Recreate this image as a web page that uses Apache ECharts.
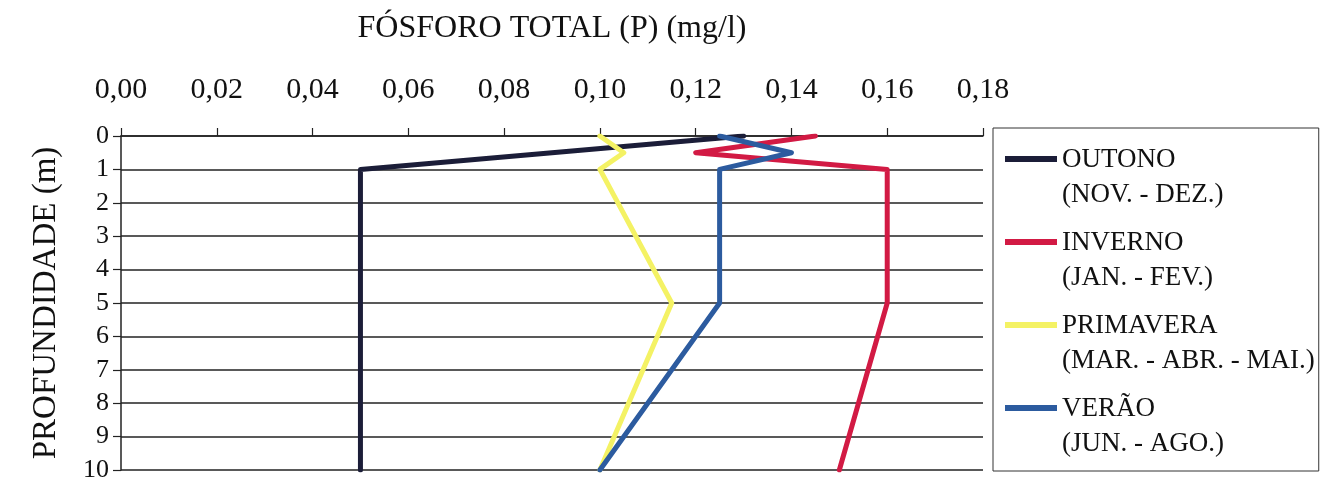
<!DOCTYPE html>
<html>
<head>
<meta charset="utf-8">
<script src="https://cdn.jsdelivr.net/npm/echarts@6/dist/echarts.min.js"></script>
<style>
  html, body { margin: 0; padding: 0; background: #fff; }
  #chart { width: 1325px; height: 484px; }
</style>
</head>
<body>
<div id="chart"></div>
<script>
// profundidade (m)
const depths = [0, 0.5, 1, 5, 10];
// fósforo total (mg/l) por estação
const outono = [0.13, 0.09, 0.05, 0.05, 0.05];
const inverno = [0.145, 0.12, 0.16, 0.16, 0.15];
const primavera = [0.10, 0.105, 0.10, 0.115, 0.10];
const verao = [0.125, 0.14, 0.125, 0.125, 0.10];

const seriesNames = [
  "OUTONO\n(NOV. - DEZ.)",
  "INVERNO\n(JAN. - FEV.)",
  "PRIMAVERA\n(MAR. - ABR. - MAI.)",
  "VERÃO\n(JUN. - AGO.)"
];
const seriesColors = ["#1b1d38", "#d21a44", "#f4f264", "#2c5b9f"];
const seriesData = [outono, inverno, primavera, verao];

const serif = "Liberation Serif";

const chart = echarts.init(document.getElementById("chart"));

const pairs = (vals) => vals.map((v, i) => [v, depths[i]]);

const option = {
  backgroundColor: "#fff",
  animation: false,
  grid: { left: 121, right: 342, top: 136, bottom: 14 },
  xAxis: {
    type: "value",
    position: "top",
    min: 0,
    max: 0.18,
    interval: 0.02,
    name: "FÓSFORO TOTAL (P) (mg/l)",
    nameLocation: "middle",
    nameGap: 91,
    nameTextStyle: { fontFamily: serif, fontSize: 32, color: "#111" },
    axisLine: { show: true, lineStyle: { color: "#222", width: 1.5 } },
    axisTick: { show: true, length: 8, lineStyle: { color: "#222", width: 1.2 } },
    axisLabel: {
      margin: 31,
      fontFamily: serif,
      fontSize: 30,
      color: "#111",
      formatter: (v) => v.toFixed(2).replace(".", ",")
    },
    splitLine: { show: false }
  },
  yAxis: {
    type: "value",
    inverse: true,
    min: 0,
    max: 10,
    interval: 1,
    name: "PROFUNDIDADE (m)",
    nameLocation: "middle",
    nameGap: 58,
    nameTextStyle: { fontFamily: serif, fontSize: 33, color: "#111" },
    axisLine: { show: true, lineStyle: { color: "#222", width: 1.5 } },
    axisTick: { show: true, length: 8, lineStyle: { color: "#222", width: 1.2 } },
    axisLabel: { margin: 12, fontFamily: serif, fontSize: 26, color: "#111" },
    splitLine: { show: true, lineStyle: { color: "#222", width: 1.5 } }
  },
  legend: {
    orient: "vertical",
    left: 993,
    top: 128,
    padding: [14, 4, 10, 12],
    itemGap: 13,
    itemWidth: 52,
    itemHeight: 70,
    borderColor: "#333",
    borderWidth: 1,
    icon: "path://M0,14 L52,14 L52,20 L0,20 Z M0,0 L0.01,0 M0,70 L0.01,70",
    textStyle: { fontFamily: serif, fontSize: 27, lineHeight: 35, color: "#111" },
    data: seriesNames
  },
  series: seriesNames.map((name, i) => ({
    name: name,
    type: "line",
    data: pairs(seriesData[i]),
    symbol: "none",
    color: seriesColors[i],
    lineStyle: { color: seriesColors[i], width: 5, cap: "round", join: "round" }
  }))
};

chart.setOption(option);
</script>
</body>
</html>
